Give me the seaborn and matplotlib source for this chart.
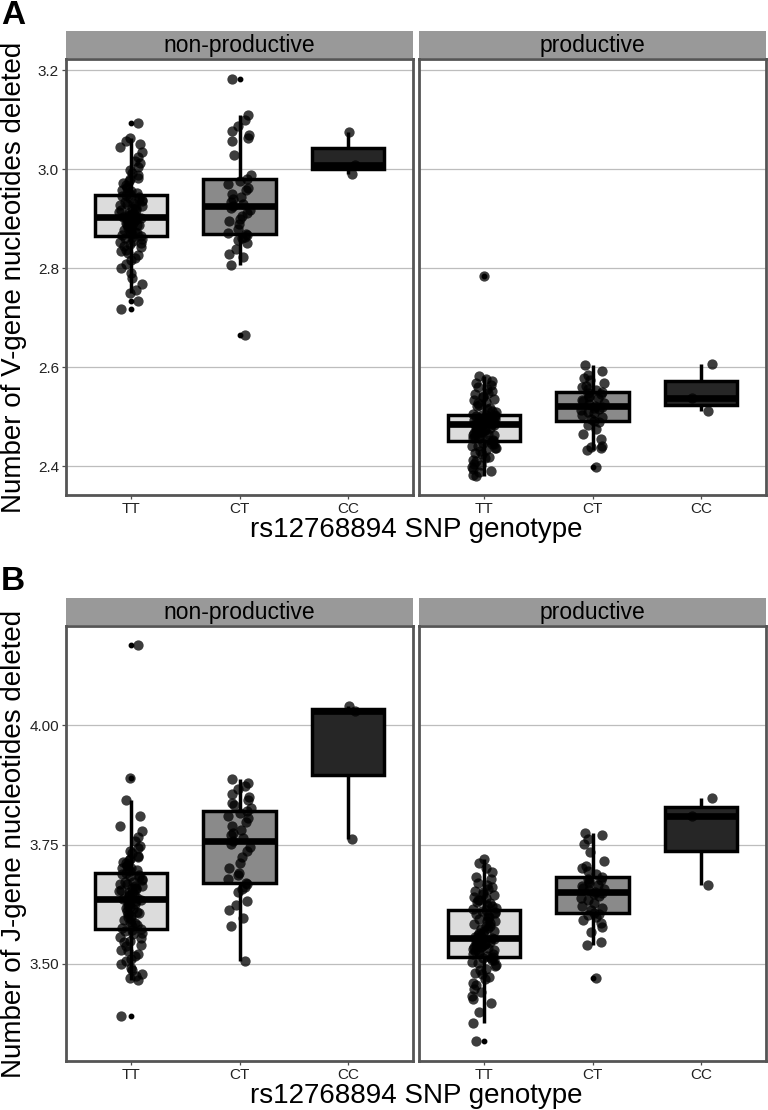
import numpy as np
import pandas as pd
import matplotlib
matplotlib.use("Agg")
import matplotlib.pyplot as plt
import seaborn as sns

sns.set_theme(style="white")
plt.rcParams["font.family"] = ["Liberation Sans", "DejaVu Sans"]

GENOTYPES = ["TT", "CT", "CC"]
STATUSES = ["non-productive", "productive"]
FILLS = {"TT": "#dcdcdc", "CT": "#8a8a8a", "CC": "#262626"}

# ---- panel A: V-gene deletions ----
a_np_tt = [2.718, 2.733, 2.750, 2.757, 2.769, 2.781, 2.790, 2.801, 2.808, 2.816, 2.821, 2.827,
           2.830, 2.836, 2.838, 2.843, 2.845, 2.849, 2.851, 2.854, 2.856, 2.859, 2.861, 2.863,
           2.865, 2.867, 2.870, 2.871, 2.874, 2.875, 2.878, 2.879, 2.882, 2.883, 2.885, 2.887,
           2.888, 2.890, 2.891, 2.892, 2.894, 2.895, 2.897, 2.897, 2.898, 2.900, 2.900, 2.902,
           2.903, 2.904, 2.905, 2.907, 2.909, 2.910, 2.912, 2.914, 2.917, 2.918, 2.921, 2.922,
           2.925, 2.926, 2.928, 2.931, 2.932, 2.935, 2.936, 2.939, 2.940, 2.943, 2.944, 2.946,
           2.948, 2.951, 2.952, 2.956, 2.958, 2.962, 2.964, 2.969, 2.972, 2.977, 2.980, 2.983,
           2.989, 2.992, 2.998, 3.005, 3.012, 3.017, 3.025, 3.036, 3.046, 3.051, 3.058, 3.064,
           3.094]
a_np_ct = [2.665, 2.807, 2.823, 2.828, 2.840, 2.852, 2.858, 2.862, 2.864, 2.867, 2.869,
           2.872, 2.880, 2.889, 2.895, 2.900, 2.906, 2.912, 2.918, 2.922, 2.926,
           2.930, 2.934, 2.940, 2.944, 2.950, 2.958, 2.963, 2.970, 2.976, 2.980,
           2.988, 3.030, 3.058, 3.063, 3.070, 3.078, 3.087, 3.100, 3.110, 3.183]
a_np_cc = [2.991, 3.009, 3.076]

a_p_tt = [2.380, 2.383, 2.388, 2.390, 2.395, 2.398, 2.402, 2.405, 2.410, 2.412, 2.417, 2.419,
          2.424, 2.426, 2.430, 2.432, 2.436, 2.437, 2.441, 2.442, 2.445, 2.446, 2.448, 2.450,
          2.451, 2.453, 2.454, 2.457, 2.458, 2.460, 2.461, 2.463, 2.464, 2.466, 2.467, 2.469,
          2.470, 2.471, 2.473, 2.474, 2.475, 2.477, 2.478, 2.479, 2.481, 2.482, 2.483, 2.484,
          2.485, 2.486, 2.486, 2.487, 2.488, 2.489, 2.490, 2.490, 2.491, 2.492, 2.493, 2.494,
          2.494, 2.495, 2.496, 2.497, 2.497, 2.498, 2.499, 2.500, 2.501, 2.502, 2.503, 2.503,
          2.504, 2.506, 2.510, 2.512, 2.516, 2.518, 2.522, 2.524, 2.528, 2.530, 2.534, 2.536,
          2.540, 2.542, 2.546, 2.548, 2.553, 2.556, 2.561, 2.564, 2.569, 2.572, 2.577, 2.582,
          2.785]
a_p_ct = [2.398, 2.433, 2.436, 2.438, 2.441, 2.456, 2.466, 2.476, 2.484, 2.489, 2.492,
          2.495, 2.499, 2.503, 2.507, 2.510, 2.513, 2.516, 2.518, 2.520, 2.522,
          2.525, 2.528, 2.531, 2.534, 2.537, 2.540, 2.543, 2.546, 2.549, 2.551,
          2.554, 2.557, 2.560, 2.563, 2.568, 2.574, 2.579, 2.585, 2.592, 2.605]
a_p_cc = [2.511, 2.537, 2.607]

# ---- panel B: J-gene deletions ----
b_np_tt = [3.392, 3.466, 3.470, 3.475, 3.479, 3.487, 3.492, 3.500, 3.507, 3.510, 3.517, 3.520,
           3.527, 3.530, 3.537, 3.540, 3.545, 3.548, 3.554, 3.556, 3.562, 3.564, 3.568, 3.571,
           3.573, 3.576, 3.580, 3.582, 3.586, 3.588, 3.592, 3.594, 3.598, 3.600, 3.604, 3.606,
           3.609, 3.611, 3.615, 3.617, 3.620, 3.622, 3.626, 3.627, 3.630, 3.631, 3.634, 3.635,
           3.637, 3.639, 3.642, 3.644, 3.647, 3.648, 3.651, 3.652, 3.655, 3.656, 3.659, 3.660,
           3.663, 3.664, 3.667, 3.668, 3.671, 3.672, 3.676, 3.678, 3.682, 3.684, 3.687, 3.688,
           3.690, 3.694, 3.696, 3.700, 3.702, 3.706, 3.708, 3.712, 3.714, 3.718, 3.720, 3.724,
           3.727, 3.732, 3.736, 3.742, 3.748, 3.757, 3.766, 3.779, 3.790, 3.809, 3.843, 3.889,
           4.169]
b_np_ct = [3.506, 3.579, 3.597, 3.612, 3.623, 3.631, 3.650, 3.656, 3.662, 3.667, 3.670,
           3.677, 3.687, 3.690, 3.700, 3.712, 3.725, 3.737, 3.745, 3.752, 3.758,
           3.764, 3.770, 3.775, 3.781, 3.790, 3.797, 3.805, 3.811, 3.816, 3.820,
           3.826, 3.832, 3.838, 3.843, 3.850, 3.857, 3.866, 3.873, 3.879, 3.887]
b_np_cc = [3.762, 4.030, 4.040]

b_p_tt = [3.338, 3.376, 3.399, 3.418, 3.427, 3.433, 3.442, 3.448, 3.456, 3.461, 3.468, 3.472,
          3.478, 3.482, 3.487, 3.490, 3.495, 3.498, 3.502, 3.504, 3.508, 3.509, 3.512, 3.513,
          3.515, 3.517, 3.520, 3.521, 3.524, 3.525, 3.528, 3.529, 3.532, 3.533, 3.535, 3.536,
          3.538, 3.539, 3.541, 3.542, 3.544, 3.545, 3.547, 3.548, 3.550, 3.551, 3.552, 3.553,
          3.554, 3.556, 3.559, 3.560, 3.564, 3.565, 3.569, 3.570, 3.574, 3.575, 3.579, 3.580,
          3.584, 3.585, 3.589, 3.590, 3.594, 3.596, 3.599, 3.601, 3.604, 3.606, 3.609, 3.610,
          3.612, 3.615, 3.617, 3.621, 3.623, 3.627, 3.629, 3.633, 3.635, 3.639, 3.641, 3.645,
          3.647, 3.651, 3.653, 3.658, 3.661, 3.666, 3.670, 3.677, 3.683, 3.693, 3.702, 3.712,
          3.719]
b_p_ct = [3.471, 3.539, 3.545, 3.566, 3.578, 3.585, 3.592, 3.598, 3.602, 3.605, 3.607,
          3.612, 3.617, 3.622, 3.628, 3.633, 3.638, 3.642, 3.646, 3.649, 3.651,
          3.654, 3.657, 3.660, 3.663, 3.666, 3.670, 3.673, 3.676, 3.679, 3.682,
          3.688, 3.695, 3.700, 3.705, 3.716, 3.735, 3.751, 3.762, 3.770, 3.775]
b_p_cc = [3.665, 3.809, 3.848]

a_ticks = [2.4, 2.6, 2.8, 3.0, 3.2]
a_ticklabels = ["2.4", "2.6", "2.8", "3.0", "3.2"]
b_ticks = [3.50, 3.75, 4.00]
b_ticklabels = ["3.50", "3.75", "4.00"]


def make_frame(groups):
    rows = []
    for (status, geno), vals in groups.items():
        for v in vals:
            rows.append({"status": status, "genotype": geno, "value": v})
    return pd.DataFrame(rows)


df_a = make_frame({
    ("non-productive", "TT"): a_np_tt, ("non-productive", "CT"): a_np_ct,
    ("non-productive", "CC"): a_np_cc, ("productive", "TT"): a_p_tt,
    ("productive", "CT"): a_p_ct, ("productive", "CC"): a_p_cc,
})
df_b = make_frame({
    ("non-productive", "TT"): b_np_tt, ("non-productive", "CT"): b_np_ct,
    ("non-productive", "CC"): b_np_cc, ("productive", "TT"): b_p_tt,
    ("productive", "CT"): b_p_ct, ("productive", "CC"): b_p_cc,
})

W, H = 768, 1110
fig = plt.figure(figsize=(W / 100, H / 100), dpi=100)


def px_axes(x0, y0, x1, y1):
    return fig.add_axes([x0 / W, 1 - y1 / H, (x1 - x0) / W, (y1 - y0) / H])


def draw_panel(df, top, bottom, ylim, ticks, ticklabels, ylabel, letter):
    np.random.seed(7)
    strip_top = top - 28
    cols = [(66, 413), (419, 766)]
    for i, status in enumerate(STATUSES):
        x0, x1 = cols[i]
        ax = px_axes(x0, top, x1, bottom)
        sub = df[df["status"] == status]
        sns.boxplot(data=sub, x="genotype", y="value", hue="genotype", order=GENOTYPES,
                    hue_order=GENOTYPES, palette=FILLS, legend=False, width=0.67,
                    linewidth=2.5, linecolor="black", fliersize=3.2,
                    flierprops=dict(marker="o", markerfacecolor="black",
                                    markeredgecolor="black"),
                    medianprops=dict(linewidth=4.8, color="black"),
                    capprops=dict(visible=False), ax=ax)
        sns.stripplot(data=sub, x="genotype", y="value", order=GENOTYPES, color="black",
                      alpha=0.76, size=7.4, jitter=0.11, linewidth=0, ax=ax, zorder=5)
        ax.set_xlim(-0.6, 2.6)
        ax.set_ylim(*ylim)
        ax.set_yticks(ticks)
        ax.set_yticklabels(ticklabels)
        ax.yaxis.grid(True, color="#bdbdbd", linewidth=0.9)
        ax.xaxis.grid(False)
        ax.set_axisbelow(True)
        ax.set_xlabel("")
        ax.set_ylabel("")
        for sp in ax.spines.values():
            sp.set_color("#555555")
            sp.set_linewidth(2.0)
        ax.tick_params(axis="both", labelsize=11, colors="#4d4d4d", length=3,
                       width=0.9, labelcolor="#222222", pad=2,
                       bottom=True, left=(i == 0), labelleft=(i == 0))

        sax = px_axes(x0, strip_top, x1, top - 1)
        sax.set_facecolor("#999999")
        sax.set_xticks([])
        sax.set_yticks([])
        for sp in sax.spines.values():
            sp.set_visible(False)
        sax.text(0.5, 0.45, status, ha="center", va="center", fontsize=16.5,
                 color="black", transform=sax.transAxes)

    fig.text(14 / W, 1 - (top + bottom) / 2 / H, ylabel, rotation=90, ha="center",
             va="center", fontsize=20, color="black")
    fig.text(416 / W, 1 - (bottom + 35) / H, "rs12768894 SNP genotype", ha="center",
             va="center", fontsize=20, color="black")
    fig.text(1 / W, 1 - (strip_top - 16) / H, letter, ha="left", va="center",
             fontsize=24, fontweight="bold", color="black")


draw_panel(df_a, 59, 495, (2.342, 3.223), a_ticks, a_ticklabels,
           "Number of V-gene nucleotides deleted", "A")
draw_panel(df_b, 626, 1061, (3.2967, 4.208), b_ticks, b_ticklabels,
           "Number of J-gene nucleotides deleted", "B")

fig.savefig("out.png", dpi=100)
